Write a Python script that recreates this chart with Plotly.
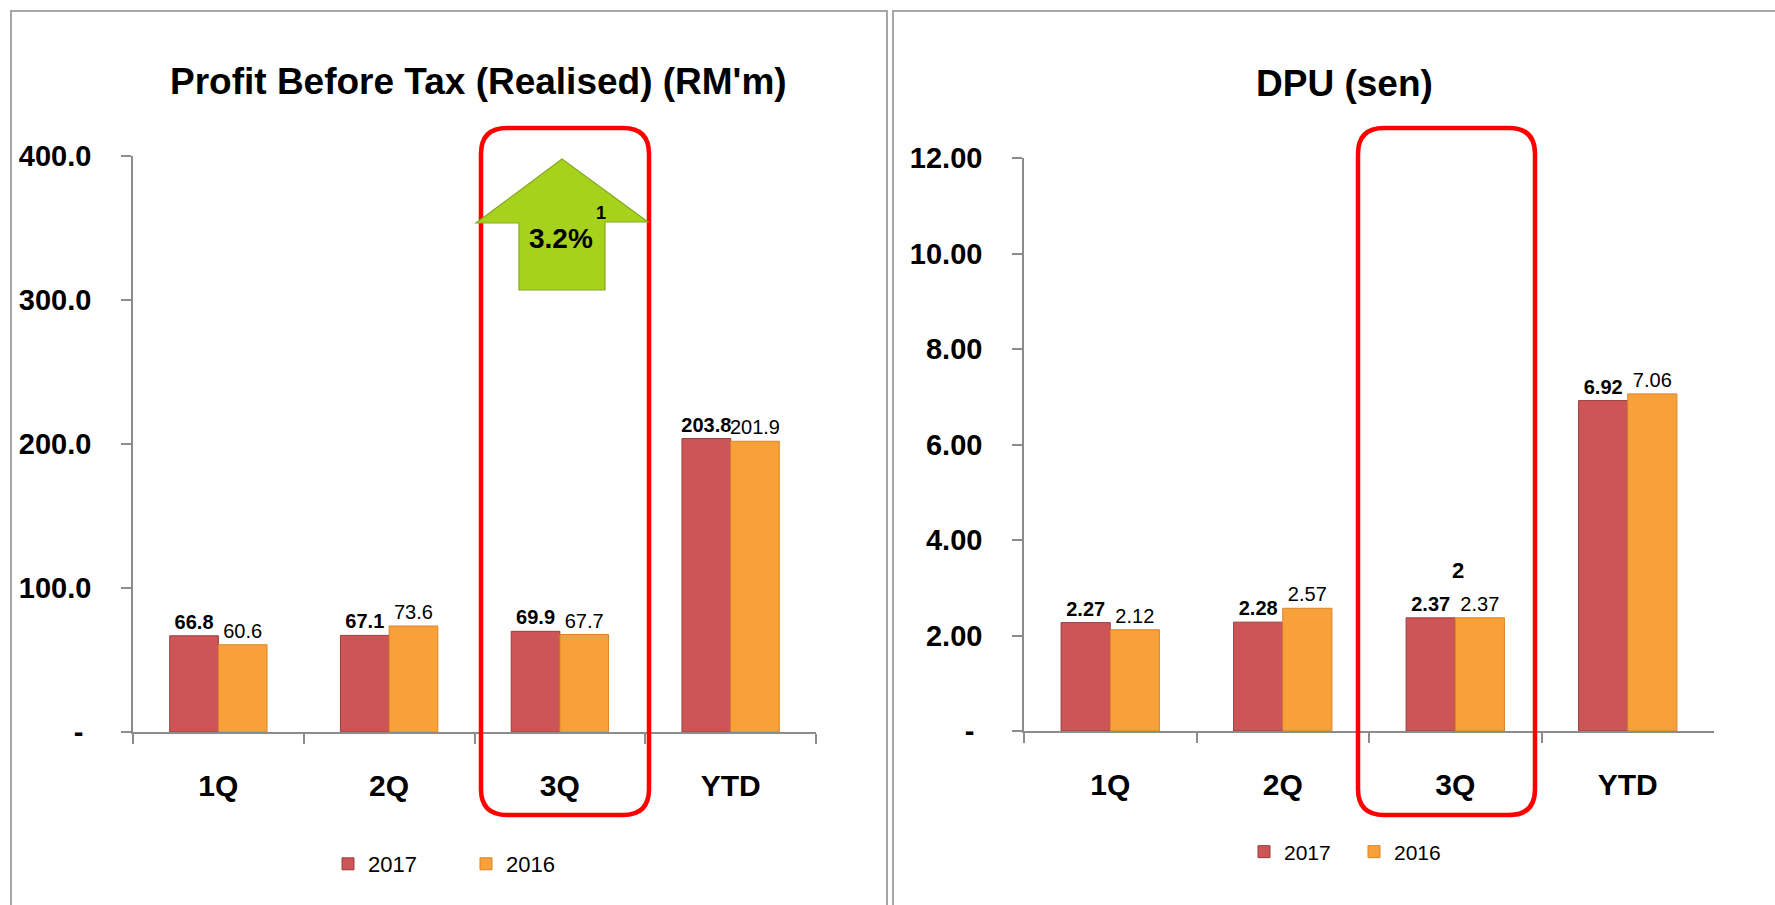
import plotly.graph_objects as go

W, H = 1775, 905

# ---------------- data ----------------
categories = ["1Q", "2Q", "3Q", "YTD"]
series_names = ["2017", "2016"]
pbt_2017 = [66.8, 67.1, 69.9, 203.8]
pbt_2016 = [60.6, 73.6, 67.7, 201.9]
dpu_2017 = [2.27, 2.28, 2.37, 6.92]
dpu_2016 = [2.12, 2.57, 2.37, 7.06]
pbt_tickvals = [0, 100, 200, 300, 400]
pbt_ticktext = ["-\u00a0", "100.0", "200.0", "300.0", "400.0"]
dpu_tickvals = [0, 2, 4, 6, 8, 10, 12]
dpu_ticktext = ["-\u00a0", "2.00", "4.00", "6.00", "8.00", "10.00", "12.00"]
titles = ["Profit Before Tax (Realised) (RM'm)", "DPU (sen)"]
growth_text = "3.2%"
growth_note = "1"
dpu_note = "2"

# ---------------- style ----------------
FONT = "Liberation Sans, Arial, sans-serif"
C17, C16 = "#CD5555", "#F8A03A"
E17, E16 = "#9A3E3E", "#D98428"
AX = "#8C8C8C"


def px(x):
    return x / W


def py(y):
    return 1 - y / H


fig = go.Figure()


def add_pair(v17, v16, xa, ya, fmt, leg):
    fig.add_trace(go.Bar(
        x=categories, y=v17, name=series_names[0], xaxis=xa, yaxis=ya,
        marker=dict(color=C17, line=dict(color=E17, width=1)),
        texttemplate="%{y:" + fmt + "}", textposition="outside", textangle=0,
        constraintext="none", cliponaxis=False,
        textfont=dict(family=FONT, size=20, color="black", weight="bold"),
        legend=leg))
    fig.add_trace(go.Bar(
        x=categories, y=v16, name=series_names[1], xaxis=xa, yaxis=ya,
        marker=dict(color=C16, line=dict(color=E16, width=1)),
        texttemplate="%{y:" + fmt + "}", textposition="outside", textangle=0,
        constraintext="none", cliponaxis=False,
        textfont=dict(family=FONT, size=20, color="black"),
        legend=leg))


add_pair(pbt_2017, pbt_2016, "x", "y", ".1f", "legend")
add_pair(dpu_2017, dpu_2016, "x2", "y2", ".2f", "legend2")

xcommon = dict(type="category", showline=True, linecolor=AX, linewidth=1.5,
               ticks="outside", tickson="boundaries", ticklen=10, tickcolor=AX,
               tickwidth=1.5, showgrid=False, zeroline=False, automargin=False,
               tickfont=dict(family=FONT, size=30, color="black", weight="bold"),
               ticklabelstandoff=26, range=[-0.5, 3.5])
ycommon = dict(showline=True, linecolor=AX, linewidth=1.5, ticks="outside",
               ticklen=10, tickcolor=AX, tickwidth=1.5, showgrid=False,
               zeroline=False, ticklabelstandoff=24, automargin=False,
               tickfont=dict(family=FONT, size=29, color="black", weight="bold"))

fig.update_layout(
    width=W, height=H, margin=dict(l=0, r=0, t=0, b=0, autoexpand=False),
    paper_bgcolor="white", plot_bgcolor="white",
    font=dict(family=FONT, color="black"),
    barmode="group", bargap=0.43, bargroupgap=0,
    xaxis=dict(domain=[px(133), px(816)], anchor="y", **xcommon),
    yaxis=dict(domain=[py(732), py(156)], anchor="x", range=[0, 400],
               tickvals=pbt_tickvals, ticktext=pbt_ticktext, **ycommon),
    xaxis2=dict(domain=[px(1024), px(1714)], anchor="y2", **xcommon),
    yaxis2=dict(domain=[py(731), py(158)], anchor="x2", range=[0, 12],
                tickvals=dpu_tickvals, ticktext=dpu_ticktext, **ycommon),
    legend=dict(orientation="h", x=px(328), y=py(864), xanchor="left",
                yanchor="middle", entrywidth=93, bgcolor="rgba(0,0,0,0)",
                font=dict(family=FONT, size=22, color="black")),
    legend2=dict(orientation="h", x=px(1244), y=py(852), xanchor="left",
                 yanchor="middle", entrywidth=65, bgcolor="rgba(0,0,0,0)",
                 font=dict(family=FONT, size=21, color="black")),
)

shapes = []
# panel borders
shapes.append(dict(type="rect", xref="paper", yref="paper", x0=px(11), x1=px(887),
                   y0=py(930), y1=py(11), line=dict(color="#A6A6A6", width=2),
                   layer="below"))
shapes.append(dict(type="rect", xref="paper", yref="paper", x0=px(893), x1=px(1800),
                   y0=py(930), y1=py(11), line=dict(color="#A6A6A6", width=2),
                   layer="below"))


def rounded(x0, y0, x1, y1, r):
    return (f"M{px(x0 + r)},{py(y0)} L{px(x1 - r)},{py(y0)} "
            f"Q{px(x1)},{py(y0)} {px(x1)},{py(y0 + r)} "
            f"L{px(x1)},{py(y1 - r)} Q{px(x1)},{py(y1)} {px(x1 - r)},{py(y1)} "
            f"L{px(x0 + r)},{py(y1)} Q{px(x0)},{py(y1)} {px(x0)},{py(y1 - r)} "
            f"L{px(x0)},{py(y0 + r)} Q{px(x0)},{py(y0)} {px(x0 + r)},{py(y0)} Z")


for (a, b) in [(481, 649), (1358, 1535)]:
    shapes.append(dict(type="path", xref="paper", yref="paper",
                       path=rounded(a, 128, b, 815, 26),
                       line=dict(color="#FF0000", width=4.5)))

# green up arrow
arrow_pts = [(562, 159), (648, 222), (605, 222), (605, 290), (519, 290),
             (519, 223), (476, 223)]
path = "M" + " L".join(f"{px(x)},{py(y)}" for x, y in arrow_pts) + " Z"
shapes.append(dict(type="path", xref="paper", yref="paper", path=path,
                   fillcolor="#A6D21C", line=dict(color="#86A828", width=1.2)))
fig.update_layout(shapes=shapes)

annotations = [
    dict(text=f"<b>{titles[0]}</b>", x=px(478), y=py(81), xref="paper", yref="paper",
         showarrow=False, xanchor="center", yanchor="middle",
         font=dict(family=FONT, size=37, color="black")),
    dict(text=f"<b>{titles[1]}</b>", x=px(1344), y=py(84), xref="paper", yref="paper",
         showarrow=False, xanchor="center", yanchor="middle",
         font=dict(family=FONT, size=37, color="black")),
    dict(text=f"<b>{growth_text}</b>", x=px(561), y=py(239), xref="paper", yref="paper",
         showarrow=False, xanchor="center", yanchor="middle",
         font=dict(family=FONT, size=28, color="black")),
    dict(text=f"<b>{growth_note}</b>", x=px(601), y=py(213), xref="paper", yref="paper",
         showarrow=False, xanchor="center", yanchor="middle",
         font=dict(family=FONT, size=18, color="black")),
    dict(text=f"<b>{dpu_note}</b>", x=px(1458), y=py(570), xref="paper", yref="paper",
         showarrow=False, xanchor="center", yanchor="middle",
         font=dict(family=FONT, size=22, color="black")),
]
fig.update_layout(annotations=annotations)

fig.write_html("out.html", config={"displayModeBar": False},
               post_script="document.body.style.margin='0';document.body.style.overflow='hidden';")
